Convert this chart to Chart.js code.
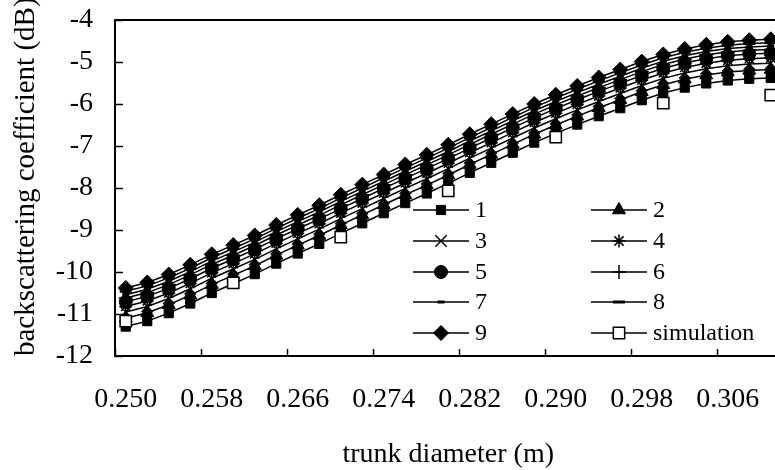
<!DOCTYPE html>
<html>
<head>
<meta charset="utf-8">
<script src="https://cdn.jsdelivr.net/npm/chart.js@4.4.1/dist/chart.umd.min.js"></script>
<style>
  html, body { margin: 0; padding: 0; background: #fff; overflow: hidden; }
  #wrap { width: 775px; height: 470px; overflow: hidden; position: relative; }
  canvas { display: block; }
</style>
</head>
<body>
<div id="wrap"><canvas id="c" width="800" height="470"></canvas></div>
<script>
// ---------- data ----------
const categories = ['0.250','0.252','0.254','0.256','0.258','0.260','0.262','0.264','0.266','0.268',
  '0.270','0.272','0.274','0.276','0.278','0.280','0.282','0.284','0.286','0.288',
  '0.290','0.292','0.294','0.296','0.298','0.300','0.302','0.304','0.306','0.308','0.310'];
const tickLabels = ['0.250','0.258','0.266','0.274','0.282','0.290','0.298','0.306'];

const series1 = [-11.30,-11.17,-10.98,-10.75,-10.50,-10.28,-10.05,-9.80,-9.56,-9.33,-9.08,-8.84,-8.60,-8.36,-8.13,-7.89,-7.64,-7.40,-7.16,-6.92,-6.70,-6.49,-6.29,-6.10,-5.91,-5.74,-5.61,-5.51,-5.44,-5.40,-5.38];
const series2 = [-11.10,-10.97,-10.78,-10.55,-10.30,-10.08,-9.85,-9.60,-9.36,-9.13,-8.88,-8.64,-8.40,-8.16,-7.93,-7.69,-7.44,-7.20,-6.96,-6.72,-6.50,-6.29,-6.09,-5.90,-5.71,-5.54,-5.41,-5.31,-5.24,-5.20,-5.18];
const series3 = [-10.95,-10.82,-10.63,-10.40,-10.15,-9.93,-9.70,-9.45,-9.21,-8.98,-8.73,-8.49,-8.25,-8.01,-7.78,-7.54,-7.29,-7.05,-6.81,-6.57,-6.35,-6.14,-5.94,-5.75,-5.56,-5.39,-5.26,-5.16,-5.09,-5.05,-5.03];
const series4 = [-10.82,-10.69,-10.50,-10.27,-10.02,-9.80,-9.57,-9.32,-9.08,-8.85,-8.60,-8.36,-8.12,-7.88,-7.65,-7.41,-7.16,-6.92,-6.68,-6.44,-6.22,-6.01,-5.81,-5.62,-5.43,-5.26,-5.13,-5.03,-4.96,-4.92,-4.90];
const series5 = [-10.71,-10.58,-10.39,-10.16,-9.91,-9.69,-9.46,-9.21,-8.97,-8.74,-8.49,-8.25,-8.01,-7.77,-7.54,-7.30,-7.05,-6.81,-6.57,-6.33,-6.11,-5.90,-5.70,-5.51,-5.32,-5.15,-5.02,-4.92,-4.85,-4.81,-4.79];
const series6 = [-10.62,-10.49,-10.30,-10.07,-9.82,-9.60,-9.37,-9.12,-8.88,-8.65,-8.40,-8.16,-7.92,-7.68,-7.45,-7.21,-6.96,-6.72,-6.48,-6.24,-6.02,-5.81,-5.61,-5.42,-5.23,-5.06,-4.93,-4.83,-4.76,-4.72,-4.70];
const series7 = [-10.54,-10.41,-10.22,-9.99,-9.74,-9.52,-9.29,-9.04,-8.80,-8.57,-8.32,-8.08,-7.84,-7.60,-7.37,-7.13,-6.88,-6.64,-6.40,-6.16,-5.94,-5.73,-5.53,-5.34,-5.15,-4.98,-4.85,-4.75,-4.68,-4.64,-4.62];
const series8 = [-10.46,-10.33,-10.14,-9.91,-9.66,-9.44,-9.21,-8.96,-8.72,-8.49,-8.24,-8.00,-7.76,-7.52,-7.29,-7.05,-6.80,-6.56,-6.32,-6.08,-5.86,-5.65,-5.45,-5.26,-5.07,-4.90,-4.77,-4.67,-4.60,-4.56,-4.54];
const series9 = [-10.38,-10.25,-10.06,-9.83,-9.58,-9.36,-9.13,-8.88,-8.64,-8.41,-8.16,-7.92,-7.68,-7.44,-7.21,-6.97,-6.72,-6.48,-6.24,-6.00,-5.78,-5.57,-5.37,-5.18,-4.99,-4.82,-4.69,-4.59,-4.52,-4.48,-4.46];
const simulation = [-11.17,null,null,null,null,-10.26,null,null,null,null,-9.17,null,null,null,null,-8.07,null,null,null,null,-6.79,null,null,null,null,-5.98,null,null,null,null,-5.79];

const seriesNames = ['1','2','3','4','5','6','7','8','9','simulation'];
const seriesValues = [series1,series2,series3,series4,series5,series6,series7,series8,series9,simulation];

// ---------- styles ----------
const FONT = '"Liberation Serif", "Times New Roman", serif';
const markerStyles = [
  {pointStyle:'rect',     radius:6.5, bw:1,   fill:'#000'},
  {pointStyle:'triangle', radius:7.5, bw:1,   fill:'#000'},
  {pointStyle:'crossRot', radius:8,   bw:1.5, fill:'#000'},
  {pointStyle:'star',     radius:6.5, bw:1.5, fill:'#000'},
  {pointStyle:'circle',   radius:6.5, bw:1,   fill:'#000'},
  {pointStyle:'cross',    radius:7,   bw:1.5, fill:'#000'},
  {pointStyle:'line',     radius:3.5, bw:3,   fill:'#000'},
  {pointStyle:'line',     radius:6,   bw:3,   fill:'#000'},
  {pointStyle:'rectRot',  radius:7.5, bw:1,   fill:'#000'},
  {pointStyle:'rect',     radius:8,   bw:1.5, fill:'#fff'}
];

const datasets = seriesValues.map((vals, i) => {
  const m = markerStyles[i];
  const isSim = i === 9;
  return {
    label: seriesNames[i],
    data: vals,
    borderColor: '#000',
    borderWidth: 1.5,
    backgroundColor: m.fill,
    pointStyle: m.pointStyle,
    pointRadius: m.radius,
    pointHoverRadius: m.radius,
    pointBorderWidth: m.bw,
    pointBorderColor: '#000',
    pointBackgroundColor: m.fill,
    showLine: !isSim,
    spanGaps: true,
    tension: 0,
    order: isSim ? 0 : 10 - i,
    clip: 20
  };
});

// legend drawn inside plot area, two columns
const legendCols = [413, 591];
const legendRows = [210, 241, 272, 302, 333];
const legendPlugin = {
  id: 'gridLegend',
  afterDatasetsDraw(chart) {
    const ctx = chart.ctx;
    ctx.save();
    seriesNames.forEach((name, i) => {
      const col = i % 2, row = Math.floor(i / 2);
      const x0 = legendCols[col], y = legendRows[row];
      const lineW = 56;
      ctx.strokeStyle = '#000';
      ctx.lineWidth = 1.5;
      ctx.beginPath();
      ctx.moveTo(x0, y); ctx.lineTo(x0 + lineW, y);
      ctx.stroke();
      const m = markerStyles[i];
      ctx.fillStyle = m.fill;
      ctx.strokeStyle = '#000';
      ctx.lineWidth = m.bw;
      Chart.helpers.drawPoint(ctx, {pointStyle: m.pointStyle, radius: m.radius, rotation: 0, borderWidth: m.bw}, x0 + lineW / 2, y);
      ctx.fillStyle = '#000';
      ctx.font = '24px ' + FONT;
      ctx.textBaseline = 'middle';
      ctx.textAlign = 'left';
      ctx.fillText(name, x0 + lineW + 6, y + 1);
    });
    ctx.restore();
  }
};

new Chart(document.getElementById('c'), {
  type: 'line',
  data: { labels: categories, datasets },
  options: {
    responsive: false,
    animation: false,
    devicePixelRatio: 1,
    layout: { padding: { top: 20, right: 18.5, left: 0, bottom: 0 } },
    plugins: { legend: { display: false }, tooltip: { enabled: false } },
    scales: {
      x: {
        type: 'category',
        position: 'bottom',
        offset: true,
        afterFit: s => { s.height = 114; s.paddingLeft = 0; s.paddingRight = 0; },
        grid: {
          offset: true,
          drawOnChartArea: false,
          drawTicks: true,
          tickLength: -7,
          tickWidth: 1.5,
          tickColor: ctx => (ctx.index % 4 === 0 ? '#000' : 'rgba(0,0,0,0)')
        },
        border: { display: true, color: '#000', width: 2 },
        ticks: {
          autoSkip: false,
          maxRotation: 0,
          minRotation: 0,
          padding: 34,
          color: '#000',
          font: { family: FONT, size: 28 },
          callback: function(value, index) {
            const lab = categories[index];
            return tickLabels.includes(lab) ? lab : '';
          }
        },
        title: {
          display: true,
          text: 'trunk diameter (m)',
          color: '#000',
          font: { family: FONT, size: 28, lineHeight: 1.1 },
          padding: { top: 0, bottom: 0 }
        }
      },
      xTop: {
        type: 'category',
        position: 'top',
        offset: true,
        afterFit: s => { s.height = 0; s.paddingLeft = 0; s.paddingRight = 0; },
        grid: { display: false, drawTicks: false },
        border: { display: true, color: '#000', width: 2 },
        ticks: { display: false }
      },
      y: {
        min: -12,
        max: -4,
        afterFit: s => { s.width = 115; s.paddingTop = 0; s.paddingBottom = 0; },
        grid: {
          drawOnChartArea: false,
          drawTicks: true,
          tickLength: -8,
          tickWidth: 1.5,
          tickColor: '#000'
        },
        border: { display: true, color: '#000', width: 2 },
        ticks: {
          stepSize: 1,
          padding: 30,
          color: '#000',
          font: { family: FONT, size: 28 }
        },
        title: {
          display: true,
          text: 'backscattering coefficient (dB)',
          align: 'start',
          color: '#000',
          font: { family: FONT, size: 29 },
          padding: { top: 9, bottom: 0 }
        }
      }
    }
  },
  plugins: [legendPlugin]
});
</script>
</body>
</html>
